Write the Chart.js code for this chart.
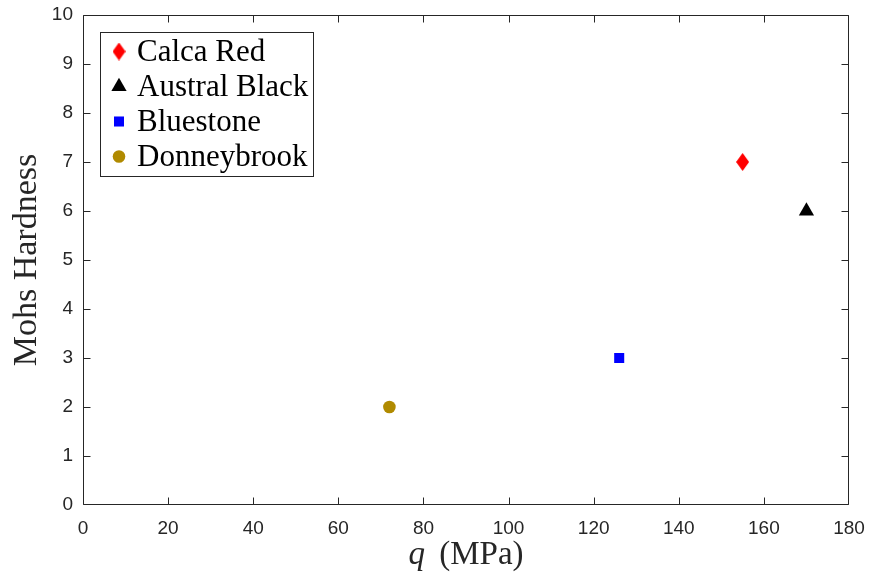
<!DOCTYPE html>
<html>
<head>
<meta charset="utf-8">
<script src="https://cdn.jsdelivr.net/npm/chart.js@4.4.1/dist/chart.umd.min.js"></script>
<style>
  html, body { margin: 0; padding: 0; background: #ffffff; }
  #wrap { width: 870px; height: 583px; }
</style>
</head>
<body>
<div id="wrap"><canvas id="c" width="870" height="583"></canvas></div>
<script>
// Stone samples: uniaxial strength q (MPa) against Mohs hardness
const stones = ['Calca Red', 'Austral Black', 'Bluestone', 'Donneybrook'];
const strengthMPa = [155, 170, 126, 72];
const mohsHardness = [7, 6, 3, 2];
const xTicks = [0, 20, 40, 60, 80, 100, 120, 140, 160, 180];
const yTicks = [0, 1, 2, 3, 4, 5, 6, 7, 8, 9, 10];

const AXIS_COLOR = '#262626';
const SERIF = '"Liberation Serif", "DejaVu Serif", serif';
const SANS = '"Liberation Sans", Arial, sans-serif';

// tall red diamond marker
function makeDiamond(w, h, color) {
  const cv = document.createElement('canvas');
  cv.width = w; cv.height = h;
  const g = cv.getContext('2d');
  g.fillStyle = color;
  g.beginPath();
  g.moveTo(w / 2, 0);
  g.lineTo(w, h / 2);
  g.lineTo(w / 2, h);
  g.lineTo(0, h / 2);
  g.closePath();
  g.fill();
  return cv;
}

const markerStyles = [
  { style: makeDiamond(13, 18, '#ff0000'), radius: 9, color: '#ff0000' },
  { style: 'triangle', radius: 8.8, color: '#000000' },
  { style: 'rect', radius: 7.1, color: '#0000ff' },
  { style: 'circle', radius: 6.3, color: '#b08a00' }
];

const datasets = stones.map((name, i) => ({
  label: name,
  data: [{ x: strengthMPa[i], y: mohsHardness[i] }],
  pointStyle: markerStyles[i].style,
  pointRadius: markerStyles[i].radius,
  pointHoverRadius: markerStyles[i].radius,
  pointBackgroundColor: markerStyles[i].color,
  pointBorderColor: markerStyles[i].color,
  pointBorderWidth: 0,
  showLine: false
}));

const clamp = (v, lo, hi) => Math.min(hi, Math.max(lo, v));

// box frame, inward ticks, axis titles and the legend box
const framePlugin = {
  id: 'frame',
  afterDatasetsDraw(chart) {
    const { ctx, chartArea: a, scales } = chart;
    const L = Math.round(a.left) + 0.5, R = Math.round(a.right) - 0.5;
    const T = Math.round(a.top) + 0.5, B = Math.round(a.bottom) - 0.5;
    ctx.save();
    ctx.strokeStyle = AXIS_COLOR;
    ctx.lineWidth = 1;
    ctx.beginPath();
    ctx.rect(L, T, R - L, B - T);
    const tl = 7;
    xTicks.forEach(v => {
      const px = clamp(Math.round(scales.x.getPixelForValue(v)) + 0.5, L, R);
      ctx.moveTo(px, B); ctx.lineTo(px, B - tl);
      ctx.moveTo(px, T); ctx.lineTo(px, T + tl);
    });
    yTicks.forEach(v => {
      const py = clamp(Math.round(scales.y.getPixelForValue(v)) + 0.5, T, B);
      ctx.moveTo(L, py); ctx.lineTo(L + tl, py);
      ctx.moveTo(R, py); ctx.lineTo(R - tl, py);
    });
    ctx.stroke();

    // axis titles
    ctx.fillStyle = AXIS_COLOR;
    ctx.save();
    ctx.translate(36, (a.top + a.bottom) / 2);
    ctx.rotate(-Math.PI / 2);
    ctx.font = '34px ' + SERIF;
    ctx.textAlign = 'center';
    ctx.textBaseline = 'alphabetic';
    ctx.fillText('Mohs Hardness', 0, 0);
    ctx.restore();

    const qFont = 'italic 33px ' + SERIF, uFont = '33px ' + SERIF;
    ctx.font = qFont; const wq = ctx.measureText('q').width;
    ctx.font = uFont; const wu = ctx.measureText(' (MPa)').width;
    const gap = 6;
    let x0 = (a.left + a.right) / 2 - (wq + gap + wu) / 2;
    ctx.textAlign = 'left';
    ctx.textBaseline = 'alphabetic';
    ctx.font = qFont; ctx.fillText('q', x0, 564);
    ctx.font = uFont; ctx.fillText(' (MPa)', x0 + wq + gap, 564);

    // legend
    const bx = 100.5, by = 32.5, bw = 213, bh = 144;
    ctx.fillStyle = '#ffffff';
    ctx.fillRect(bx, by, bw, bh);
    ctx.strokeStyle = '#262626';
    ctx.strokeRect(bx, by, bw, bh);
    chart.data.datasets.forEach((ds, i) => {
      const ry = 51.5 + i * 35;
      ctx.fillStyle = ds.pointBackgroundColor;
      ctx.strokeStyle = ds.pointBorderColor;
      Chart.helpers.drawPoint(ctx, {
        pointStyle: ds.pointStyle,
        radius: ds.pointRadius,
        rotation: 0,
        borderWidth: 0
      }, 119, ry);
      ctx.fillStyle = '#000000';
      ctx.font = '31px ' + SERIF;
      ctx.textAlign = 'left';
      ctx.textBaseline = 'alphabetic';
      ctx.fillText(ds.label, 137, ry + 9.5);
    });
    ctx.restore();
  }
};

new Chart(document.getElementById('c'), {
  type: 'scatter',
  data: { datasets },
  options: {
    responsive: false,
    animation: false,
    devicePixelRatio: 1,
    layout: { padding: { left: 0, top: 15, right: 21, bottom: 0 } },
    plugins: { legend: { display: false }, tooltip: { enabled: false } },
    scales: {
      x: {
        type: 'linear',
        min: xTicks[0], max: xTicks[xTicks.length - 1],
        afterBuildTicks(s) { s.ticks = xTicks.map(v => ({ value: v })); },
        afterFit(s) { s.height = 78; s.paddingLeft = 0; s.paddingRight = 0; },
        grid: { display: true, drawOnChartArea: false, drawTicks: false },
        border: { display: false },
        ticks: { color: AXIS_COLOR, font: { family: SANS, size: 19 }, padding: 12, maxRotation: 0 }
      },
      y: {
        type: 'linear',
        min: yTicks[0], max: yTicks[yTicks.length - 1],
        afterBuildTicks(s) { s.ticks = yTicks.map(v => ({ value: v })); },
        afterFit(s) { s.width = 83; s.paddingTop = 0; s.paddingBottom = 0; },
        grid: { display: true, drawOnChartArea: false, drawTicks: false },
        border: { display: false },
        ticks: { color: AXIS_COLOR, font: { family: SANS, size: 19 }, padding: 10 }
      }
    }
  },
  plugins: [framePlugin]
});
</script>
</body>
</html>
